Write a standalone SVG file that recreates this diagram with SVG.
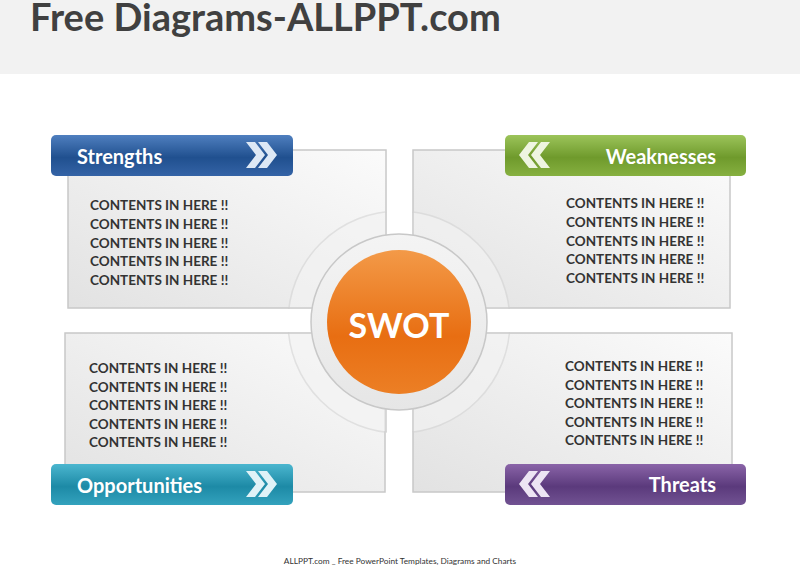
<svg xmlns="http://www.w3.org/2000/svg" width="800" height="575" viewBox="0 0 800 575">
<defs>
<linearGradient id="pg" x1="0" y1="1" x2="1" y2="0"><stop offset="0" stop-color="#e2e2e2"/><stop offset="1" stop-color="#fbfbfb"/></linearGradient>
<linearGradient id="og" x1="0" y1="0" x2="0" y2="1"><stop offset="0" stop-color="#f39a48"/><stop offset="0.6" stop-color="#e86e12"/><stop offset="1" stop-color="#ec7f25"/></linearGradient>
<linearGradient id="ring" x1="0" y1="0" x2="0" y2="1"><stop offset="0" stop-color="#f4f4f4"/><stop offset="1" stop-color="#e6e6e6"/></linearGradient>
<linearGradient id="gb" x1="0" y1="0" x2="0" y2="1"><stop offset="0" stop-color="#4f7fbf"/><stop offset="0.55" stop-color="#20508f"/><stop offset="1" stop-color="#3463a6"/></linearGradient>
<linearGradient id="gg" x1="0" y1="0" x2="0" y2="1"><stop offset="0" stop-color="#9cc45a"/><stop offset="0.55" stop-color="#6f9a2c"/><stop offset="1" stop-color="#86b040"/></linearGradient>
<linearGradient id="gt" x1="0" y1="0" x2="0" y2="1"><stop offset="0" stop-color="#4bb6cf"/><stop offset="0.55" stop-color="#1d8aa6"/><stop offset="1" stop-color="#33a2bd"/></linearGradient>
<linearGradient id="gp" x1="0" y1="0" x2="0" y2="1"><stop offset="0" stop-color="#8a64a8"/><stop offset="0.55" stop-color="#5b3a7c"/><stop offset="1" stop-color="#715292"/></linearGradient>
<path id="rr" d="M0 0h9l10 13l-10 13h-9l10-13zM12 0h9l10 13l-10 13h-9l10-13z"/>
<path id="ll" d="M31 0h-9l-10 13l10 13h9l-10-13zM19 0h-9l-10 13l10 13h9l-10-13z"/>
</defs>
<style>
.p{fill:url(#pg);stroke:#c8c8c8;stroke-width:1.5}
.h{font-family:Lato,"Liberation Sans",sans-serif;font-weight:bold;font-size:20px;fill:#fff}
.c{font-family:Lato,"Liberation Sans",sans-serif;font-weight:bold;font-size:13.5px;fill:#333}
</style>
<rect width="800" height="575" fill="#fff"/>
<rect width="800" height="74" fill="#f2f2f2"/>
<text x="30" y="31" font-family="Lato,'Liberation Sans',sans-serif" font-weight="bold" font-size="38" fill="#404040">Free Diagrams-ALLPPT.com</text>
<g id="connectors">
<rect class="p" x="68" y="150" width="318" height="158"/>
<rect class="p" x="413" y="150" width="317" height="158"/>
<rect class="p" x="65" y="333" width="320" height="159"/>
<rect class="p" x="413" y="333" width="319" height="159"/>
</g>
<g id="center">
<circle cx="399" cy="322" r="111" fill="#f3f3f3" stroke="#d4d4d4" stroke-width="1.5" opacity="0.6"/>
<rect x="387" y="205" width="25" height="235" fill="#fff"/>
<rect x="280" y="309" width="240" height="23" fill="#fff"/>
<path d="M386 212V308H288M413 212V308H510M386 432V333H288M413 432V333H510" fill="none" stroke="#d0d0d0" stroke-width="1.5"/>
<circle cx="399" cy="322" r="88" fill="url(#ring)" stroke="#c8c8c8" stroke-width="1.5"/>
<circle cx="399" cy="322" r="72" fill="url(#og)"/>
<text x="399" y="338" text-anchor="middle" font-family="Lato,'Liberation Sans',sans-serif" font-weight="bold" font-size="34" fill="#fff">SWOT</text>
</g>
<g id="strengths">
<rect x="51" y="135" width="242" height="41" rx="5" fill="url(#gb)"/>
<text class="h" x="77" y="164">Strengths</text>
<use href="#rr" x="246" y="142" fill="#dde8f5"/>
<text class="c" x="90" y="210">CONTENTS IN HERE !!</text><text class="c" x="90" y="229">CONTENTS IN HERE !!</text><text class="c" x="90" y="248">CONTENTS IN HERE !!</text><text class="c" x="90" y="266">CONTENTS IN HERE !!</text><text class="c" x="90" y="285">CONTENTS IN HERE !!</text>
</g>
<g id="weaknesses">
<rect x="505" y="135" width="241" height="41" rx="5" fill="url(#gg)"/>
<text class="h" x="716" y="164" text-anchor="end">Weaknesses</text>
<use href="#ll" x="519" y="142" fill="#eef5e0"/>
<text class="c" x="566" y="208">CONTENTS IN HERE !!</text><text class="c" x="566" y="227">CONTENTS IN HERE !!</text><text class="c" x="566" y="246">CONTENTS IN HERE !!</text><text class="c" x="566" y="264">CONTENTS IN HERE !!</text><text class="c" x="566" y="283">CONTENTS IN HERE !!</text>
</g>
<g id="opportunities">
<rect x="51" y="464" width="242" height="41" rx="5" fill="url(#gt)"/>
<text class="h" x="77" y="493">Opportunities</text>
<use href="#rr" x="246" y="471" fill="#dff2f7"/>
<text class="c" x="89" y="373">CONTENTS IN HERE !!</text><text class="c" x="89" y="392">CONTENTS IN HERE !!</text><text class="c" x="89" y="410">CONTENTS IN HERE !!</text><text class="c" x="89" y="429">CONTENTS IN HERE !!</text><text class="c" x="89" y="447">CONTENTS IN HERE !!</text>
</g>
<g id="threats">
<rect x="505" y="464" width="241" height="41" rx="5" fill="url(#gp)"/>
<text class="h" x="716" y="492" text-anchor="end">Threats</text>
<use href="#ll" x="519" y="471" fill="#ece4f3"/>
<text class="c" x="565" y="371">CONTENTS IN HERE !!</text><text class="c" x="565" y="390">CONTENTS IN HERE !!</text><text class="c" x="565" y="408">CONTENTS IN HERE !!</text><text class="c" x="565" y="427">CONTENTS IN HERE !!</text><text class="c" x="565" y="445">CONTENTS IN HERE !!</text>
</g>
<text x="400" y="564" text-anchor="middle" font-family="Lato,'Liberation Sans',sans-serif" font-size="8.3" fill="#333">ALLPPT.com _ Free PowerPoint Templates, Diagrams and Charts</text>
</svg>
